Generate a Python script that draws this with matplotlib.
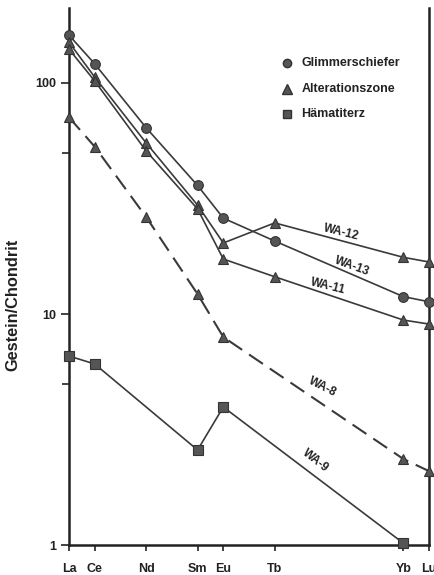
import matplotlib
matplotlib.use("Agg")
import matplotlib.pyplot as plt

plt.rcParams['font.family'] = ['Liberation Sans', 'DejaVu Sans']

# element order numbers on the x axis
elements = ['La', 'Ce', 'Nd', 'Sm', 'Eu', 'Tb', 'Yb', 'Lu']
z = [57, 58, 60, 62, 63, 65, 70, 71]

# Glimmerschiefer (WA-13)
wa13 = [161, 121, 64, 36, 26, 20.7, 11.9, 11.3]
# Alterationszone
wa12 = [150, 106, 55, 29.6, 20.3, 24.8, 17.6, 16.8]
wa11 = [140, 102, 50.8, 28.5, 17.3, 14.5, 9.42, 9.05]
wa8_z = [57, 58, 60, 62, 63, 70, 71]
wa8 = [71, 53, 26.3, 12.2, 7.95, 2.36, 2.09]
# Haematiterz
wa9_z = [57, 58, 62, 63, 70]
wa9 = [6.58, 6.08, 2.58, 3.96, 1.02]

line_c = '#3a3a3a'
mark_c = '#555555'

fig = plt.figure(figsize=(4.34, 5.75), dpi=100)
ax = fig.add_axes([0.159, 0.052, 0.8295, 0.934])

kw = dict(color=line_c, lw=1.2, markersize=7, markerfacecolor=mark_c,
          markeredgecolor='#333333', markeredgewidth=0.8, clip_on=False, zorder=3)
ax.plot(z, wa13, marker='o', **kw)
ax.plot(z, wa12, marker='^', **kw)
ax.plot(z, wa11, marker='^', **kw)
ax.plot(wa8_z, wa8, marker='^', dashes=(8, 4), **dict(kw, lw=1.5))
ax.plot(wa9_z, wa9, marker='s', **dict(kw, markersize=6.5))

ax.set_yscale('log')
ax.set_xlim(57, 71)
ax.set_ylim(1, 211)

ax.set_xticks(z)
ax.set_xticklabels(elements)
ax.set_yticks([1, 10, 100])
ax.set_yticklabels(['1', '10', '100'])
ax.set_yticks([5, 50], minor=True)
ax.yaxis.set_minor_formatter(matplotlib.ticker.NullFormatter())
ax.tick_params(axis='both', which='both', direction='out', color='#222222',
               width=1.2, labelsize=9, colors='#222222')
ax.tick_params(axis='y', which='major', length=6, pad=3)
ax.tick_params(axis='y', which='minor', length=5)
ax.tick_params(axis='x', length=4, pad=9)
for lab in ax.get_xticklabels() + ax.get_yticklabels():
    lab.set_fontweight('bold')

ax.spines['top'].set_visible(False)
for s in ['left', 'right', 'bottom']:
    ax.spines[s].set_linewidth(1.8)
    ax.spines[s].set_color('#222222')

ax.set_ylabel('Gestein/Chondrit', fontsize=11.8, fontweight='bold', color='#222222')
ax.yaxis.set_label_coords(-0.135, 0.447)

# legend
leg_items = [('o', 'Glimmerschiefer', 6), ('^', 'Alterationszone', 7), ('s', 'Hämatiterz', 6)]
for i, (m, t, ms) in enumerate(leg_items):
    yy = 0.897 - i * 0.047
    ax.plot([0.605], [yy], marker=m, markersize=ms, color=mark_c, markeredgecolor='#333333',
            transform=ax.transAxes, clip_on=False)
    ax.text(0.645, yy, t, transform=ax.transAxes, fontsize=9, fontweight='bold',
            va='center', ha='left', color='#222222')

# curve labels
lab_kw = dict(fontsize=8.5, fontweight='bold', color='#222222',
              ha='center', va='center')
ax.text(67.6, 22.6, 'WA-12', rotation=-14, **lab_kw)
ax.text(68.0, 16.1, 'WA-13', rotation=-20, **lab_kw)
ax.text(67.07, 13.2, 'WA-11', rotation=-14, **lab_kw)
ax.text(66.84, 4.83, 'WA-8', rotation=-27, **lab_kw)
ax.text(66.57, 2.33, 'WA-9', rotation=-38, **lab_kw)

fig.savefig('out.png', dpi=100)
